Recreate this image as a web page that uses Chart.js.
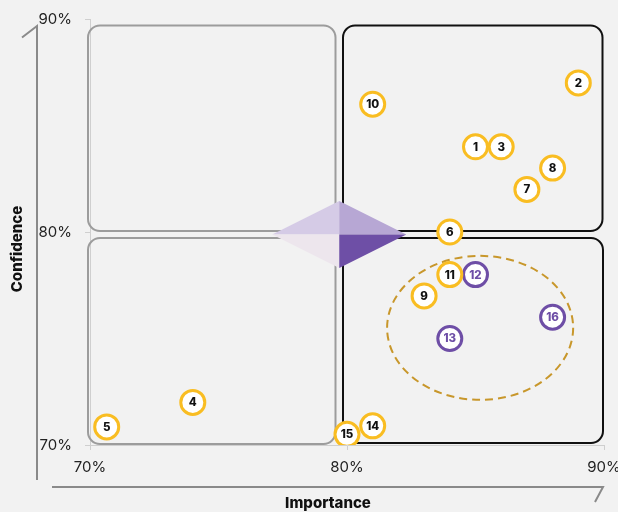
<!DOCTYPE html>
<html>
<head>
<meta charset="utf-8">
<script src="https://cdn.jsdelivr.net/npm/chart.js@4/dist/chart.umd.min.js"></script>
<style>
  html, body { margin: 0; padding: 0; background: #f2f2f2; }
  #wrap { width: 618px; height: 512px; position: relative; }
</style>
</head>
<body>
<div id="wrap"><canvas id="c" width="618" height="512"></canvas></div>
<script>
// ---- data ----
const pointIds   = ['1','2','3','4','5','6','7','8','9','10','11','12','13','14','15','16'];
const importance = [85, 89, 86, 74, 70.65, 84, 87, 88, 83, 81, 84, 85, 84, 81, 80, 88];
const confidence = [84, 87, 84, 72, 70.85, 80, 82, 83, 77, 86, 78, 78, 75, 70.9, 70.5, 76];
const highlighted = ['12','13','16'];
const xTicks = [70, 80, 90];
const yTicks = [70, 80, 90];
const xTitle = 'Importance';
const yTitle = 'Confidence';

const YELLOW = '#f9bd22';
const PURPLE = '#6e4ea6';

function build(filterFn) {
  const out = [];
  pointIds.forEach((id, i) => {
    if (filterFn(id)) out.push({ x: importance[i], y: confidence[i], id: id });
  });
  return out;
}

function roundRect(ctx, x1, y1, x2, y2, r) {
  ctx.beginPath();
  ctx.moveTo(x1 + r, y1);
  ctx.lineTo(x2 - r, y1);
  ctx.arcTo(x2, y1, x2, y1 + r, r);
  ctx.lineTo(x2, y2 - r);
  ctx.arcTo(x2, y2, x2 - r, y2, r);
  ctx.lineTo(x1 + r, y2);
  ctx.arcTo(x1, y2, x1, y2 - r, r);
  ctx.lineTo(x1, y1 + r);
  ctx.arcTo(x1, y1, x1 + r, y1, r);
  ctx.closePath();
}

const backdrop = {
  id: 'backdrop',
  beforeDatasetsDraw(chart) {
    const ctx = chart.ctx;
    const xs = chart.scales.x, ys = chart.scales.y;
    const x70 = xs.getPixelForValue(70), x80 = xs.getPixelForValue(80), x90 = xs.getPixelForValue(90);
    const y70 = ys.getPixelForValue(70), y80 = ys.getPixelForValue(80), y90 = ys.getPixelForValue(90);
    ctx.save();
    // quadrant boxes
    const Lx1 = x70 - 2, Lx2 = x80 - 11.5, Rx1 = x80 - 4, Rx2 = x90 - 1.5;
    const Ty1 = y90 + 6.5, Ty2 = y80 - 1, By1 = y80 + 6, By2 = y70 - 1.5;
    ctx.lineWidth = 2;
    ctx.strokeStyle = '#9c9c9c';
    roundRect(ctx, Lx1, Ty1, Lx2, Ty2, 12); ctx.stroke();
    roundRect(ctx, Lx1, By1, Lx2, By2 + 0.5, 12); ctx.stroke();
    ctx.strokeStyle = '#111111';
    roundRect(ctx, Rx1, Ty1, Rx2, Ty2, 12); ctx.stroke();
    roundRect(ctx, Rx1, By1, Rx2 + 0.5, By2 - 0.5, 12); ctx.stroke();
    // diamond
    const cx = (Lx2 + Rx1) / 2, cy = (Ty2 + By1) / 2;
    const hw = 67, hh = 33.5;
    const tri = (p, col) => {
      ctx.beginPath(); ctx.moveTo(cx, cy);
      ctx.lineTo(p[0], p[1]); ctx.lineTo(p[2], p[3]); ctx.closePath();
      ctx.fillStyle = col; ctx.fill();
    };
    tri([cx - hw, cy, cx, cy - hh], '#d5cbe6');
    tri([cx, cy - hh, cx + hw, cy], '#b7a7d4');
    tri([cx - hw, cy, cx, cy + hh], '#ede6ed');
    tri([cx, cy + hh, cx + hw, cy], '#6e4fa6');
    // dashed ellipse
    const ex = xs.getPixelForValue(85.18), ey = ys.getPixelForValue(75.5);
    const erx = Math.abs(xs.getPixelForValue(85.18 + 3.62) - ex);
    const ery = Math.abs(ys.getPixelForValue(75.5 + 3.38) - ey);
    ctx.beginPath();
    ctx.ellipse(ex, ey, erx, ery, 0, 0, Math.PI * 2);
    ctx.setLineDash([8, 5]);
    ctx.strokeStyle = '#c8972b';
    ctx.lineWidth = 2;
    ctx.stroke();
    ctx.setLineDash([]);
    ctx.restore();
  },
  afterDatasetsDraw(chart) {
    const ctx = chart.ctx;
    ctx.save();
    ctx.textAlign = 'center';
    ctx.textBaseline = 'middle';
    ctx.font = '800 11.5px Inter, "DejaVu Sans", sans-serif';
    chart.data.datasets.forEach((ds, di) => {
      const meta = chart.getDatasetMeta(di);
      meta.data.forEach((el, i) => {
        ctx.fillStyle = ds.textColor;
        ctx.fillText(ds.data[i].id, el.x, el.y + 0.5);
      });
    });
    ctx.restore();
  },
  afterDraw(chart) {
    const ctx = chart.ctx;
    ctx.save();
    ctx.strokeStyle = '#8a8a8a';
    ctx.lineWidth = 2;
    ctx.lineCap = 'butt';
    // decorative y axis
    ctx.beginPath();
    ctx.moveTo(37, 480); ctx.lineTo(37, 26); ctx.lineTo(22, 37.5);
    ctx.stroke();
    // decorative x axis
    ctx.beginPath();
    ctx.moveTo(52, 487); ctx.lineTo(603, 487); ctx.lineTo(595, 502);
    ctx.stroke();
    // titles
    ctx.fillStyle = '#111';
    ctx.font = '800 15px Inter, "DejaVu Sans", sans-serif';
    ctx.textAlign = 'center';
    ctx.textBaseline = 'middle';
    ctx.fillText(xTitle, 328, 503);
    ctx.translate(17, 249);
    ctx.rotate(-Math.PI / 2);
    ctx.fillText(yTitle, 0, 0);
    ctx.restore();
  }
};

const tickFont = { family: 'Inter, "DejaVu Sans", sans-serif', size: 15, weight: '400' };

new Chart(document.getElementById('c'), {
  type: 'scatter',
  data: {
    datasets: [
      {
        label: 'Items',
        data: build(id => !highlighted.includes(id)),
        pointRadius: 12, pointHoverRadius: 12,
        pointBackgroundColor: '#ffffff',
        pointBorderColor: YELLOW,
        pointBorderWidth: 3, pointHoverBorderWidth: 3,
        textColor: '#111111'
      },
      {
        label: 'Highlighted',
        data: build(id => highlighted.includes(id)),
        pointRadius: 12, pointHoverRadius: 12,
        pointBackgroundColor: '#ffffff',
        pointBorderColor: PURPLE,
        pointBorderWidth: 3, pointHoverBorderWidth: 3,
        textColor: PURPLE
      }
    ]
  },
  options: {
    responsive: false,
    animation: false,
    events: [],
    layout: { padding: { top: 19, right: 14, left: 0, bottom: 0 }, autoPadding: false },
    plugins: { legend: { display: false }, tooltip: { enabled: false } },
    scales: {
      x: {
        type: 'linear', min: 70, max: 90,
        afterBuildTicks(scale) { scale.ticks = xTicks.map(v => ({ value: v })); },
        afterFit(scale) { scale.height = 67; scale.paddingLeft = 0; scale.paddingRight = 0; },
        ticks: { callback: v => v + '%', color: '#222', font: tickFont, padding: 8, maxRotation: 0 },
        grid: { display: true, drawOnChartArea: false, drawTicks: true, tickLength: 5, color: '#cfcfcf' },
        border: { display: true, color: '#cfcfcf' }
      },
      y: {
        type: 'linear', min: 70, max: 90,
        afterBuildTicks(scale) { scale.ticks = yTicks.map(v => ({ value: v })); },
        afterFit(scale) { scale.width = 90; scale.paddingTop = 0; scale.paddingBottom = 0; },
        ticks: { callback: v => v + '%', color: '#222', font: tickFont, padding: 13 },
        grid: { display: true, drawOnChartArea: false, drawTicks: true, tickLength: 5, color: '#cfcfcf' },
        border: { display: true, color: '#cfcfcf' }
      }
    }
  },
  plugins: [backdrop]
});
</script>
</body>
</html>
